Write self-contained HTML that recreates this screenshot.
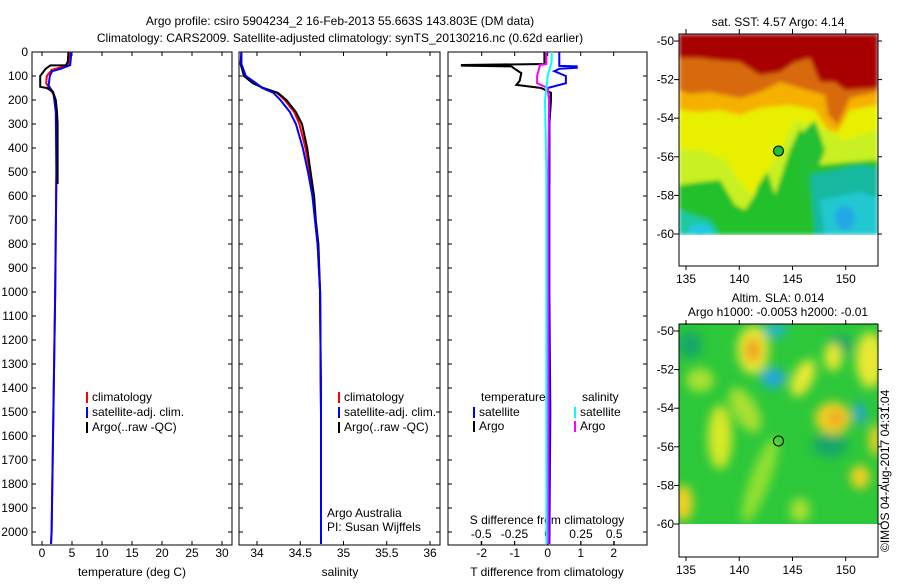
<!DOCTYPE html>
<html><head><meta charset="utf-8"><style>
body{margin:0;background:#fff;width:900px;height:580px;overflow:hidden}
svg text{font-family:"Liberation Sans",sans-serif;font-size:12px;fill:#000}
</style></head><body>
<svg id="s" width="900" height="580" viewBox="0 0 900 580" xmlns="http://www.w3.org/2000/svg">
<defs>
<filter id="bl" x="-50%" y="-50%" width="200%" height="200%"><feGaussianBlur stdDeviation="5"/></filter>
<filter id="bl2"><feGaussianBlur stdDeviation="2"/></filter>
<clipPath id="c1"><rect x="679" y="34" width="199" height="201"/></clipPath>
<clipPath id="c2"><rect x="679" y="324" width="199" height="200"/></clipPath>
</defs>
<text x="340" y="25" text-anchor="middle">Argo profile: csiro 5904234_2 16-Feb-2013 55.663S 143.803E (DM data)</text>
<text x="340" y="42" text-anchor="middle">Climatology: CARS2009. Satellite-adjusted climatology: synTS_20130216.nc (0.62d earlier)</text>

<g>
<text x="778" y="26" text-anchor="middle">sat. SST: 4.57 Argo: 4.14</text>
<g clip-path="url(#c1)" filter="url(#bl2)">
<rect x="679" y="34" width="199" height="201" fill="#22c02a"/>
<polygon fill="#c8f020" points="679,34 878,34 878,160 850,162 820,165 810,150 800,128 790,150 775,195 765,165 755,195 745,210 735,205 720,180 700,182 679,185"/>
<polygon fill="#e8f000" points="679,34 878,34 878,130 845,140 815,125 795,120 780,150 765,175 752,195 742,185 725,160 700,150 679,150"/>
<polygon fill="#f5b000" points="679,34 878,34 878,105 850,110 838,132 828,130 815,110 790,105 760,108 740,115 720,110 700,112 679,110"/>
<polygon fill="#d86a10" points="679,34 878,34 878,92 850,98 838,125 828,115 825,95 800,88 780,82 760,92 740,98 710,92 690,94 679,90"/>
<polygon fill="#a80000" points="679,34 878,34 878,88 845,90 835,82 820,82 810,58 795,62 780,72 760,75 740,62 715,60 700,58 679,58"/>
<polygon fill="#22c030" points="795,140 815,120 825,150 810,190 800,200"/>
<polygon fill="#1ec8a0" points="679,210 710,220 720,235 679,235"/>
<polygon fill="#18b8a0" points="810,175 860,165 878,168 878,235 815,235"/>
<polygon fill="#22c8d0" points="820,200 860,192 878,198 878,235 825,235"/>
<ellipse cx="845" cy="218" rx="10" ry="12" fill="#20a8e8"/>
<ellipse cx="700" cy="230" rx="12" ry="6" fill="#22c8e0"/>
</g>
<rect x="679" y="235" width="199" height="31" fill="#fff"/>
<rect x="679" y="34" width="199" height="232" fill="none" stroke="#000"/>
<circle cx="778.5" cy="151" r="5" fill="#22c02a" stroke="#000"/>
</g>

<g>
<text x="778" y="302" text-anchor="middle">Altim. SLA: 0.014</text>
<text x="778" y="316" text-anchor="middle">Argo h1000: -0.0053 h2000: -0.01</text>
<g clip-path="url(#c2)">
<rect x="679" y="324" width="199" height="200" fill="#2cc83a"/>
<g filter="url(#bl)">
<ellipse cx="690" cy="345" rx="12" ry="14" fill="#18a868"/>
<ellipse cx="840" cy="345" rx="14" ry="10" fill="#18a868"/>
<ellipse cx="830" cy="445" rx="18" ry="12" fill="#18a868"/>
<ellipse cx="775" cy="330" rx="12" ry="8" fill="#20b8c0"/>
<ellipse cx="753" cy="350" rx="16" ry="24" fill="#e8e830"/>
<ellipse cx="753" cy="350" rx="8" ry="12" fill="#f0a020"/>
<ellipse cx="773" cy="378" rx="12" ry="10" fill="#20a8e0"/>
<ellipse cx="803" cy="378" rx="10" ry="20" fill="#e8e830" transform="rotate(25 803 378)"/>
<ellipse cx="833" cy="357" rx="9" ry="14" fill="#e8e830"/>
<ellipse cx="870" cy="360" rx="14" ry="28" fill="#e8e830"/>
<ellipse cx="833" cy="418" rx="18" ry="16" fill="#f0d020"/>
<ellipse cx="836" cy="418" rx="8" ry="7" fill="#f0a020"/>
<ellipse cx="860" cy="413" rx="5" ry="12" fill="#20a0e0"/>
<ellipse cx="860" cy="477" rx="10" ry="12" fill="#f0d020"/>
<ellipse cx="875" cy="440" rx="6" ry="16" fill="#f0d020"/>
<ellipse cx="720" cy="437" rx="12" ry="32" fill="#d8e828"/>
<ellipse cx="700" cy="380" rx="14" ry="12" fill="#a8e030"/>
<ellipse cx="745" cy="410" rx="12" ry="25" fill="#a8e030" transform="rotate(-30 745 410)"/>
<ellipse cx="760" cy="480" rx="10" ry="45" fill="#90e030" transform="rotate(20 760 480)"/>
<ellipse cx="683" cy="503" rx="10" ry="18" fill="#f0d020"/>
<ellipse cx="800" cy="510" rx="10" ry="12" fill="#a8e030"/>
</g>
</g>
<rect x="679" y="524" width="199" height="33" fill="#fff"/>
<rect x="679" y="324" width="199" height="233" fill="none" stroke="#000"/>
<circle cx="778.5" cy="441" r="5" fill="none" stroke="#000"/>
<text transform="translate(889,552) rotate(-90)">©IMOS 04-Aug-2017 04:31:04</text>
</g>
<g id="mapaxes"></g>
<g id="plots"></g>
</svg>
<script>
// ---- data ----
const depthTicks=[0,100,200,300,400,500,600,700,800,900,1000,1100,1200,1300,1400,1500,1600,1700,1800,1900,2000];
const tempTicks=[0,5,10,15,20,25,30];
const salTicks=[34,34.5,35,35.5,36];
const salTickLabels=["34","34.5","35","35.5","36"];
const tdiffTicks=[-2,-1,0,1,2];
const sdiffTicks=[-0.5,-0.25,0,0.25,0.5];
const latTicks=[-50,-52,-54,-56,-58,-60];
const lonTicks=[135,140,145,150];

const climTP=[0,50,60,75,100,130,150,180,250,500,1000,1500,2000,2050];
const climT=[4.6,4.4,3.6,1.6,0.8,0.7,1.2,2.0,2.4,2.4,2.2,1.9,1.6,1.5];
const satTP=[0,55,70,80,100,140,170,250,500,1000,1500,2000,2050];
const satT=[4.9,4.7,3.1,1.7,1.3,1.1,1.9,2.3,2.4,2.2,1.9,1.6,1.5];
const argoTP=[0,40,55,56,70,90,100,145,150,165,200,250,300,550];
const argoT=[4.4,4.3,4.0,1.4,0.6,0.0,-0.3,-0.3,0.8,1.8,2.3,2.5,2.6,2.6];

const salP=[0,50,100,130,150,170,200,250,300,400,500,600,700,800,1000,1500,2050];
const climS=[33.82,33.82,33.86,33.98,34.07,34.23,34.32,34.43,34.49,34.56,34.61,34.65,34.67,34.7,34.73,34.74,34.74];
const satS=[33.82,33.82,33.87,33.99,34.06,34.19,34.27,34.38,34.45,34.53,34.59,34.64,34.67,34.7,34.73,34.74,34.74];
const argoS=[33.82,33.81,33.85,33.95,34.07,34.24,34.34,34.45,34.52,34.58,34.62,34.66,34.68,34.71,34.73,34.74,34.74];

const dTP=[0,50,54,57,60,70,88,120,137,150,170,200,300,550];
const argoDT=[-0.1,-0.1,-2.6,-2.6,-1.1,-1.0,-0.8,-0.85,-0.95,-0.2,0.1,0.1,0.05,0.05];
const satDTP=[0,50,58,60,66,70,80,100,130,150,200,600,1000,1500,2050];
const satDT=[0.35,0.35,0.35,0.88,0.88,0.35,0.2,0.55,0.55,0.0,0.05,0.05,0.05,0.08,0.05];
const dSP=[0,50,55,60,100,130,150,200,500,1000,2050];
const argoDS=[-0.01,-0.01,-0.06,-0.06,-0.08,-0.08,0.0,0.01,0.005,0.005,0.005];
const satDSP=[0,40,100,200,500,1000,2050];
const satDS=[0.03,0.03,0.0,-0.02,-0.01,-0.01,-0.01];

// ---- axes ----
const Y0=52,Y1=545;
const yP=p=>Y0+p*0.24;
const xT=t=>42+t*6;
const xS=s=>257+(s-34)*86.5;
const xDT=d=>547.7+d*33;
const xDS=d=>547.7+d*133;
const yLat=l=>41+(-50-l)*19.3;
const yLat2=l=>331+(-50-l)*19.3;
const xLon=l=>686+(l-135)*10.65;

const NS="http://www.w3.org/2000/svg";
const G=document.getElementById('plots');
function mk(tag,attrs,parent){const e=document.createElementNS(NS,tag);for(const k in attrs)e.setAttribute(k,attrs[k]);(parent||G).appendChild(e);return e;}
function txt(x,y,s,anchor,parent){const e=mk('text',{x:x,y:y,'text-anchor':anchor||'start'},parent);e.textContent=s;return e;}
function line(P,V,xf,color,name){
  const pts=P.map((p,i)=>xf(V[i]).toFixed(1)+','+yP(p).toFixed(1)).join(' ');
  const e=mk('polyline',{points:pts,fill:'none',stroke:color,'stroke-width':2});
  
  
}
const panels=[[32,232],[239,440],[448,647]];
panels.forEach((p,i)=>{
  const r=mk('rect',{x:p[0],y:Y0,width:p[1]-p[0],height:Y1-Y0,fill:'none',stroke:'#000'});
  
  
});
depthTicks.forEach(d=>{
  const t=txt(28,yP(d)+4,String(d),'end');
  
  
  panels.forEach(p=>{
    mk('line',{x1:p[0],x2:p[0]+4,y1:yP(d),y2:yP(d),stroke:'#000'});
    mk('line',{x1:p[1],x2:p[1]-4,y1:yP(d),y2:yP(d),stroke:'#000'});
  });
});
tempTicks.forEach(t=>{
  mk('line',{x1:xT(t),x2:xT(t),y1:Y1,y2:Y1-4,stroke:'#000'});
  mk('line',{x1:xT(t),x2:xT(t),y1:Y0,y2:Y0+4,stroke:'#000'});
  const e=txt(xT(t),557,String(t),'middle');
  
  
});
salTicks.forEach((s,i)=>{
  mk('line',{x1:xS(s),x2:xS(s),y1:Y1,y2:Y1-4,stroke:'#000'});
  mk('line',{x1:xS(s),x2:xS(s),y1:Y0,y2:Y0+4,stroke:'#000'});
  const e=txt(xS(s),557,salTickLabels[i],'middle');
  
  
});
tdiffTicks.forEach(t=>{
  mk('line',{x1:xDT(t),x2:xDT(t),y1:Y1,y2:Y1-4,stroke:'#000'});
  mk('line',{x1:xDT(t),x2:xDT(t),y1:Y0,y2:Y0+4,stroke:'#000'});
  const e=txt(xDT(t),557,String(t),'middle');
  
  
});
sdiffTicks.forEach(t=>{
  mk('line',{x1:xDS(t),x2:xDS(t),y1:Y1,y2:Y1-4,stroke:'#000'});
  const e=txt(xDS(t),538,String(t),'middle');
  
  
});
[[132,'temperature (deg C)','temperature-axis-title'],[340,'salinity','salinity-axis-title'],[547,'T difference from climatology','tdiff-axis-title']].forEach(a=>{
  const e=txt(a[0],576,a[1],'middle');
  
  
});
const st=txt(547,524,'S difference from climatology','middle');



// series
line(climTP,climT,xT,'#f00','temp-climatology-line');
line(satTP,satT,xT,'#00f','temp-satellite-line');
line(argoTP,argoT,xT,'#000','temp-argo-line');
line(salP,climS,xS,'#f00','sal-climatology-line');
line(salP,argoS,xS,'#000','sal-argo-line');
line(salP,satS,xS,'#00f','sal-satellite-line');
line(dTP,argoDT,xDT,'#000','tdiff-argo-line');
line(satDTP,satDT,xDT,'#00f','tdiff-satellite-line');
line(dSP,argoDS,xDS,'#f0f','sdiff-argo-line');
line(satDSP,satDS,xDS,'#0ff','sdiff-satellite-line');

// legends
function leg(x,y,color,label,name){
  const r=mk('rect',{x:x,y:y-9,width:2,height:11,fill:color});
  
  
  const t=txt(x+6,y,label);
  
  
}
leg(86,401,'#f00','climatology','legend-climatology');
leg(86,416,'#00f','satellite-adj. clim.','legend-satellite');
leg(86,431,'#000','Argo(..raw -QC)','legend-argo');
leg(338,401,'#f00','climatology','legend2-climatology');
leg(338,416,'#00f','satellite-adj. clim.','legend2-satellite');
leg(338,431,'#000','Argo(..raw -QC)','legend2-argo');
const lt=txt(481,401,'temperature');
const ls=txt(582,401,'salinity');
leg(473,416,'#00f','satellite','legend-t-satellite');
leg(473,430,'#000','Argo','legend-t-argo');
leg(574,416,'#0ff','satellite','legend-s-satellite');
leg(574,430,'#f0f','Argo','legend-s-argo');
const a1=txt(327,517,'Argo Australia');
const a2=txt(327,531,'PI: Susan Wijffels');

// map axes
const M=document.getElementById('mapaxes');
[[yLat,266],[yLat2,557]].forEach((m,mi)=>{
  const yf=m[0],bot=m[1];
  latTicks.forEach(l=>{
    mk('line',{x1:679,x2:674,y1:yf(l),y2:yf(l),stroke:'#000'},M);
    mk('line',{x1:878,x2:882,y1:yf(l),y2:yf(l),stroke:'#000'},M);
    const e=txt(674,yf(l)+4,String(l),'end',M);
    
    
  });
  lonTicks.forEach(l=>{
    mk('line',{x1:xLon(l),x2:xLon(l),y1:bot,y2:bot+4,stroke:'#000'},M);
    mk('line',{x1:xLon(l),x2:xLon(l),y1:bot-232,y2:bot-237,stroke:'#000'},M);
    const e=txt(xLon(l),bot+17,String(l),'middle',M);
    
    
  });
});
</script>
</body></html>
